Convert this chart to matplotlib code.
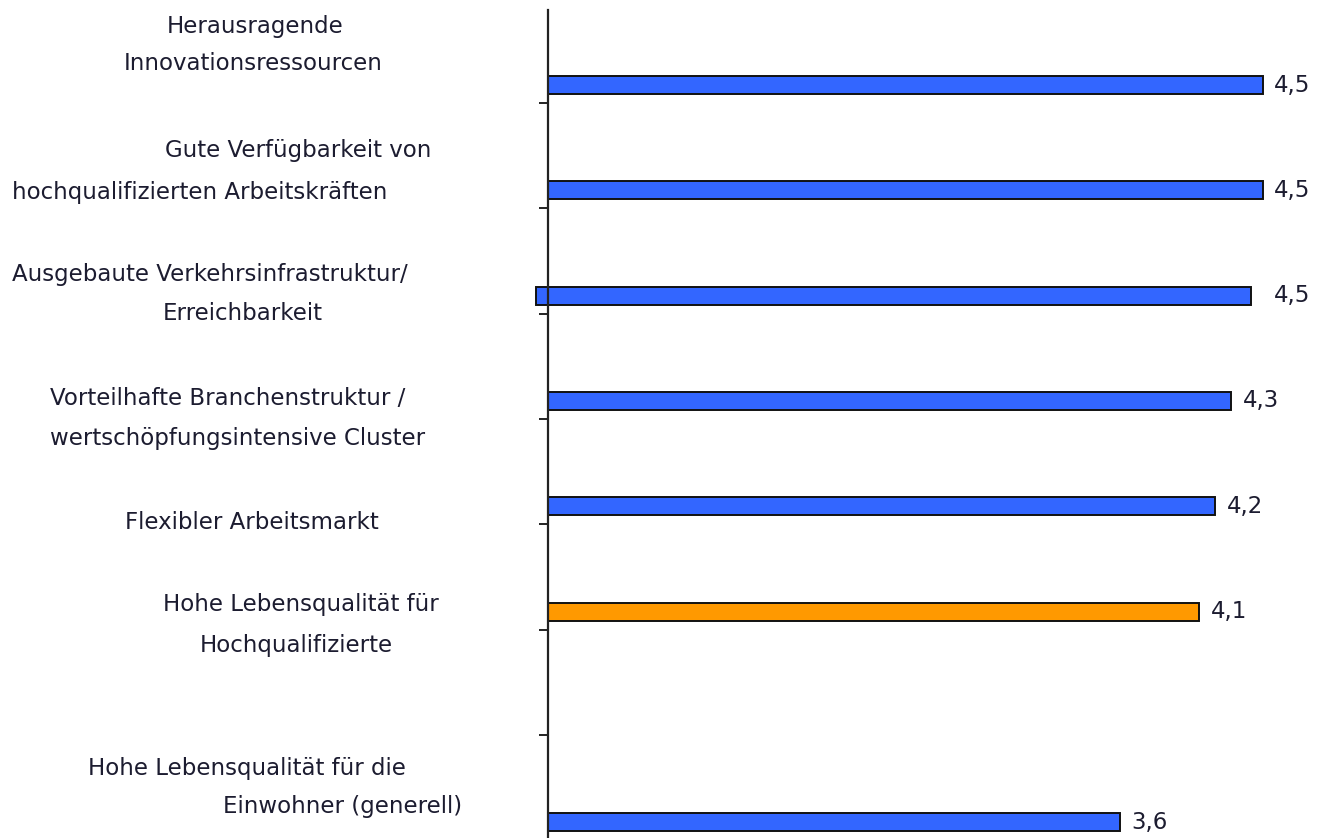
import matplotlib
matplotlib.use("Agg")
import matplotlib.pyplot as plt

# Standortfaktoren und ihre mittlere Bewertung
factors = [
    ["Herausragende", "Innovationsressourcen"],
    ["Gute Verfügbarkeit von", "hochqualifizierten Arbeitskräften"],
    ["Ausgebaute Verkehrsinfrastruktur/", "Erreichbarkeit"],
    ["Vorteilhafte Branchenstruktur /", "wertschöpfungsintensive Cluster"],
    ["Flexibler Arbeitsmarkt"],
    ["Hohe Lebensqualität für", "Hochqualifizierte"],
    ["Hohe Lebensqualität für die", "Einwohner (generell)"],
]
scores = [4.5, 4.5, 4.5, 4.3, 4.2, 4.1, 3.6]
highlight = [False, False, False, False, False, True, False]

# Layout: Zeilenposition jedes Balkens (Kategorieslots) und Textpositionen in Pixeln
slots = [1, 2, 3, 4, 5, 6, 8]
bar_shift = [0, 0, -0.075, 0, 0, 0, 0]
line_x = [[167, 124], [165, 12], [12, 163], [50, 50], [125], [163, 200], [88, 223]]
line_y = [[27, 64], [150, 192], [275, 313], [398, 438], [522], [604, 645], [768, 806]]

W, H = 1334, 838
PX_PER_UNIT = 158.9
AX_LEFT = 530
fig = plt.figure(figsize=(W / 100, H / 100), dpi=100)
ax = fig.add_axes([AX_LEFT / W, 0, 1 - AX_LEFT / W, 1 - 10 / H])

blue = "#3366ff"
orange = "#ff9900"
text_color = "#1c1c30"
font = dict(family="DejaVu Sans", fontsize=16.5, color=text_color)

ypos = [s - 0.17 for s in slots]
colors = [orange if h else blue for h in highlight]
ax.barh(ypos, scores, left=bar_shift, height=0.171, color=colors,
        edgecolor="#111111", linewidth=1.4, zorder=1)

for y, v in zip(ypos, scores):
    ax.text(v + 0.07, y, f"{v:.1f}".replace(".", ","), va="center", ha="left", **font)

ax.set_xlim(-(548 - AX_LEFT) / PX_PER_UNIT, (W - 548) / PX_PER_UNIT)
ax.set_ylim(1 + (H - 103) / 105.3, 1 - 93 / 105.3)
ax.set_yticks(range(1, 8))
ax.set_yticklabels([])
ax.set_xticks([])
ax.tick_params(axis="y", length=6.5, width=1.4, color="#222222")
for side in ["top", "right", "bottom"]:
    ax.spines[side].set_visible(False)
ax.spines["left"].set_position(("data", 0))
ax.spines["left"].set_linewidth(1.6)
ax.spines["left"].set_color("#222222")
ax.spines["left"].set_zorder(3)

for lines, xs, ys in zip(factors, line_x, line_y):
    for txt, x, y in zip(lines, xs, ys):
        fig.text(x / W, 1 - y / H, txt, ha="left", va="center", **font)

fig.savefig("out.png", dpi=100)
